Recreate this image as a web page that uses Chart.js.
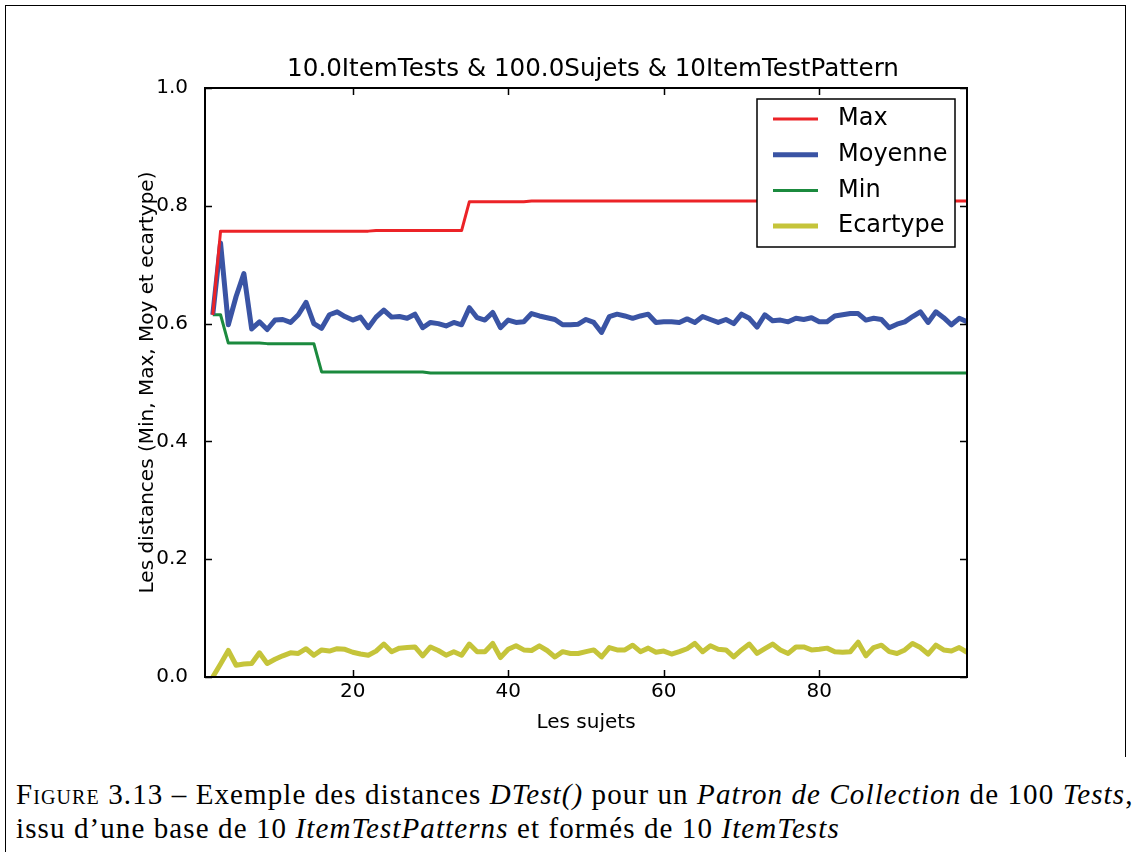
<!DOCTYPE html>
<html>
<head>
<meta charset="utf-8">
<script src="https://cdn.jsdelivr.net/npm/chart.js@4.4.1/dist/chart.umd.min.js"></script>
<style>
  body { margin: 0; width: 1132px; height: 852px; overflow: hidden; background: #fff; position: relative; }
  #wrap { position: absolute; left: 0; top: 0; width: 1132px; height: 760px; }
  .edge { position: absolute; background: #000; }
  #caption { position: absolute; left: 16px; top: 777px; font-family: 'Liberation Serif', serif; font-size: 29px; letter-spacing: 1.1px; line-height: 34px; color: #000; white-space: nowrap; }
  .sc { font-variant: small-caps; }
</style>
</head>
<body>
<div class="edge" style="left:5px;top:5px;width:1121px;height:1px"></div>
<div class="edge" style="left:5px;top:5px;width:1px;height:847px"></div>
<div class="edge" style="left:1125px;top:5px;width:1px;height:752px"></div>
<div id="wrap"><canvas id="chart" width="1132" height="760"></canvas></div>
<div id="caption">
  <div><span class="sc">Figure</span> 3.13 – Exemple des distances <i>DTest()</i> pour un <i>Patron de Collection</i> de 100 <i>Tests</i>,</div>
  <div>issu d’une base de 10 <i>ItemTestPatterns</i> et formés de 10 <i>ItemTests</i></div>
</div>
<script>
// subject counts on the x axis
const sujets = Array.from({ length: 98 }, (_, i) => i + 2);

const maxVals = [
  0.615, 0.757, 0.757, 0.757, 0.757, 0.757, 0.757, 0.757, 0.757, 0.757,
  0.757, 0.757, 0.757, 0.757, 0.757, 0.757, 0.757, 0.757, 0.757, 0.757,
  0.757, 0.758, 0.758, 0.758, 0.758, 0.758, 0.758, 0.758, 0.758, 0.758,
  0.758, 0.758, 0.758, 0.807, 0.807, 0.807, 0.807, 0.807, 0.807, 0.807,
  0.807, 0.808, 0.808, 0.808, 0.808, 0.808, 0.808, 0.808, 0.808, 0.808,
  0.808, 0.808, 0.808, 0.808, 0.808, 0.808, 0.808, 0.808, 0.808, 0.808,
  0.808, 0.808, 0.808, 0.808, 0.808, 0.808, 0.808, 0.808, 0.808, 0.808,
  0.808, 0.808, 0.808, 0.808, 0.808, 0.808, 0.808, 0.808, 0.808, 0.808,
  0.808, 0.808, 0.808, 0.808, 0.808, 0.808, 0.808, 0.808, 0.808, 0.808,
  0.808, 0.808, 0.808, 0.808, 0.808, 0.808, 0.808, 0.808
];

const moyVals = [
  0.615, 0.737, 0.598, 0.646, 0.685, 0.591, 0.603, 0.590, 0.606, 0.607,
  0.602, 0.615, 0.636, 0.600, 0.592, 0.615, 0.620, 0.612, 0.606, 0.611,
  0.593, 0.611, 0.623, 0.611, 0.612, 0.609, 0.616, 0.593, 0.602, 0.600,
  0.596, 0.602, 0.598, 0.627, 0.610, 0.606, 0.619, 0.593, 0.606, 0.602,
  0.603, 0.617, 0.613, 0.610, 0.607, 0.598, 0.598, 0.599, 0.607, 0.602,
  0.585, 0.612, 0.616, 0.613, 0.609, 0.613, 0.616, 0.602, 0.603, 0.603,
  0.602, 0.608, 0.602, 0.612, 0.607, 0.602, 0.607, 0.600, 0.616, 0.609,
  0.594, 0.615, 0.605, 0.606, 0.603, 0.609, 0.607, 0.610, 0.603, 0.603,
  0.613, 0.615, 0.617, 0.617, 0.606, 0.609, 0.607, 0.593, 0.599, 0.603,
  0.612, 0.620, 0.602, 0.620, 0.610, 0.598, 0.609, 0.603
];

const minVals = [
  0.615, 0.615, 0.567, 0.567, 0.567, 0.567, 0.567, 0.566, 0.566, 0.566,
  0.566, 0.566, 0.566, 0.566, 0.518, 0.518, 0.518, 0.518, 0.518, 0.518,
  0.518, 0.518, 0.518, 0.518, 0.518, 0.518, 0.518, 0.518, 0.516, 0.516,
  0.516, 0.516, 0.516, 0.516, 0.516, 0.516, 0.516, 0.516, 0.516, 0.516,
  0.516, 0.516, 0.516, 0.516, 0.516, 0.516, 0.516, 0.516, 0.516, 0.516,
  0.516, 0.516, 0.516, 0.516, 0.516, 0.516, 0.516, 0.516, 0.516, 0.516,
  0.516, 0.516, 0.516, 0.516, 0.516, 0.516, 0.516, 0.516, 0.516, 0.516,
  0.516, 0.516, 0.516, 0.516, 0.516, 0.516, 0.516, 0.516, 0.516, 0.516,
  0.516, 0.516, 0.516, 0.516, 0.516, 0.516, 0.516, 0.516, 0.516, 0.516,
  0.516, 0.516, 0.516, 0.516, 0.516, 0.516, 0.516, 0.516
];

const ecartVals = [
  0.000, 0.022, 0.045, 0.020, 0.022, 0.023, 0.041, 0.023, 0.030, 0.036,
  0.041, 0.040, 0.048, 0.037, 0.046, 0.044, 0.048, 0.047, 0.042, 0.039,
  0.037, 0.044, 0.056, 0.043, 0.049, 0.050, 0.051, 0.036, 0.051, 0.045,
  0.037, 0.043, 0.037, 0.056, 0.043, 0.043, 0.057, 0.033, 0.047, 0.053,
  0.046, 0.045, 0.053, 0.045, 0.034, 0.043, 0.040, 0.040, 0.043, 0.046,
  0.034, 0.050, 0.046, 0.046, 0.054, 0.043, 0.049, 0.042, 0.044, 0.039,
  0.043, 0.048, 0.057, 0.043, 0.053, 0.047, 0.046, 0.034, 0.046, 0.056,
  0.040, 0.048, 0.056, 0.046, 0.040, 0.051, 0.051, 0.046, 0.047, 0.049,
  0.043, 0.042, 0.043, 0.059, 0.036, 0.050, 0.054, 0.043, 0.040, 0.046,
  0.057, 0.050, 0.039, 0.054, 0.046, 0.044, 0.050, 0.042
];

const xTicks = [20, 40, 60, 80];
const yTicks = [0, 0.2, 0.4, 0.6, 0.8, 1.0];
const chartTitle = '10.0ItemTests & 100.0Sujets & 10ItemTestPattern';

const FONT = 'DejaVu Sans';

// title over the plot, frame, inward ticks and the boxed legend, matplotlib style
const mplDecor = {
  id: 'mplDecor',
  afterDatasetsDraw(chart) {
    const ctx = chart.ctx;
    const a = chart.chartArea;
    const xs = chart.scales.x, ys = chart.scales.y;
    ctx.save();
    ctx.fillStyle = '#000';
    ctx.font = '24.6px "' + FONT + '"';
    ctx.textAlign = 'center';
    ctx.textBaseline = 'middle';
    ctx.fillText(chartTitle, (a.left + a.right) / 2 + 7, a.top - 18);

    ctx.strokeStyle = '#000';
    ctx.lineWidth = 1.5;
    ctx.beginPath();
    xTicks.forEach(v => {
      const px = Math.round(xs.getPixelForValue(v)) + 0.5;
      ctx.moveTo(px, a.bottom); ctx.lineTo(px, a.bottom - 7);
      ctx.moveTo(px, a.top); ctx.lineTo(px, a.top + 7);
    });
    yTicks.forEach(v => {
      const py = Math.round(ys.getPixelForValue(v)) + 0.5;
      ctx.moveTo(a.left, py); ctx.lineTo(a.left + 7, py);
      ctx.moveTo(a.right, py); ctx.lineTo(a.right - 7, py);
    });
    ctx.stroke();
    ctx.lineWidth = 2;
    ctx.strokeRect(a.left, a.top, a.right - a.left, a.bottom - a.top);

    // legend
    const bw = 198, bh = 148;
    const bx = a.right - 12 - bw, by = a.top + 11;
    ctx.fillStyle = '#fff';
    ctx.fillRect(bx, by, bw, bh);
    ctx.lineWidth = 1.5;
    ctx.strokeRect(bx, by, bw, bh);
    ctx.font = '24px "' + FONT + '"';
    ctx.textAlign = 'left';
    chart.data.datasets.forEach((ds, i) => {
      const ry = by + 20 + i * 35.7;
      ctx.strokeStyle = ds.borderColor;
      ctx.lineWidth = ds.borderWidth;
      ctx.beginPath();
      ctx.moveTo(bx + 16, ry); ctx.lineTo(bx + 61, ry);
      ctx.stroke();
      ctx.fillStyle = '#000';
      ctx.fillText(ds.label, bx + 81, ry);
    });
    ctx.restore();
  }
};

new Chart(document.getElementById('chart'), {
  type: 'line',
  data: {
    labels: sujets,
    datasets: [
      { label: 'Max', data: maxVals, borderColor: '#ec2327', borderWidth: 3 },
      { label: 'Moyenne', data: moyVals, borderColor: '#3a54a4', borderWidth: 5 },
      { label: 'Min', data: minVals, borderColor: '#1b8a3e', borderWidth: 3 },
      { label: 'Ecartype', data: ecartVals, borderColor: '#c5c43a', borderWidth: 5 }
    ]
  },
  options: {
    responsive: false,
    animation: false,
    events: [],
    layout: { padding: { left: 0, right: 165, top: 88, bottom: 0 } },
    elements: {
      point: { radius: 0 },
      line: { tension: 0, fill: false, borderJoinStyle: 'round', borderCapStyle: 'butt' }
    },
    plugins: {
      legend: { display: false },
      tooltip: { enabled: false },
      title: { display: false }
    },
    scales: {
      x: {
        type: 'linear',
        min: 1,
        max: 99,
        afterBuildTicks: s => { s.ticks = xTicks.map(v => ({ value: v })); },
        afterFit: s => { s.height = 83; },
        grid: { display: false },
        border: { display: false },
        ticks: { color: '#000', padding: -5, font: { family: FONT, size: 20 }, maxRotation: 0 },
        title: {
          display: true, text: 'Les sujets', color: '#000',
          font: { family: FONT, size: 20 }, padding: { top: 0, bottom: 25 }
        }
      },
      y: {
        min: 0,
        max: 1,
        afterBuildTicks: s => { s.ticks = yTicks.map(v => ({ value: v })); },
        afterFit: s => { s.width = 205; },
        grid: { display: false },
        border: { display: false },
        ticks: { color: '#000', padding: 9, font: { family: FONT, size: 20 }, callback: v => v.toFixed(1) },
        title: {
          display: true, text: 'Les distances (Min, Max, Moy et ecartype)', color: '#000',
          font: { family: FONT, size: 20 }, padding: { top: 136, bottom: 0 }
        }
      }
    }
  },
  plugins: [mplDecor]
});
</script>
</body>
</html>
